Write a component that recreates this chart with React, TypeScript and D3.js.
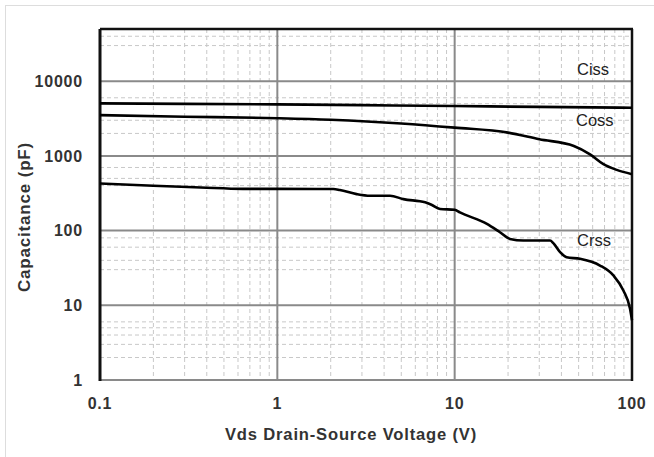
import React from 'react'
import * as d3 from 'd3'

// (Vds in V, capacitance in pF)
const cissV = [0.1, 0.3, 1, 3, 10, 30, 100]
const cissC = [5050, 4980, 4900, 4780, 4650, 4530, 4420]

const cossV = [0.1, 0.3, 1, 2, 5, 10, 20, 30, 47, 58, 69, 82, 100]
const cossC = [3520, 3350, 3200, 3050, 2720, 2390, 2050, 1670, 1360, 1050, 775, 650, 570]

const crssV = [0.1, 0.2, 0.37, 0.64, 1, 2.07, 2.25, 2.8, 3.33, 4.32, 5.14, 6.81, 7.4, 8.27, 10, 10.7, 15.2, 18, 20.5, 24.4, 34.5, 36, 39.3, 42.8, 50.9, 66, 78.5, 89.4, 97.5, 100]
const crssC = [428, 398, 378, 362, 362, 360, 350, 308, 293, 293, 264, 239, 222, 195, 190, 175, 123, 95, 77.4, 73.6, 73.6, 68, 51.4, 44, 41.9, 34.1, 25.1, 15.8, 9, 6.3]

const xTicks = [0.1, 1, 10, 100]
const yTicks = [1, 10, 100, 1000, 10000]
const yMinor = [2, 3, 4, 5, 6, 30, 40, 60, 80, 400, 500, 700, 2000, 3000, 5000, 6000, 30000, 40000]

const seriesNames = ['Ciss', 'Coss', 'Crss']
const labelAt = [[577, 75], [576, 126], [577, 246]]

export default function App() {
  const W = 654, H = 457
  const x = d3.scaleLog().domain([0.1, 100]).range([100, 632])
  const y = d3.scaleLog().domain([1, 50000]).range([380, 29])

  const line = d3.line<[number, number]>()
    .x(d => x(d[0]))
    .y(d => y(d[1]))
    .curve(d3.curveMonotoneX)

  const series = [
    d3.zip(cissV, cissC),
    d3.zip(cossV, cossC),
    d3.zip(crssV, crssC),
  ] as [number, number][][]

  const xMinor = x.ticks().filter(t => !xTicks.includes(t))
  const [x0, x1] = x.range()
  const [y0, y1] = y.range()

  const tickFont = { fontFamily: 'Liberation Sans, Arial, sans-serif', fontWeight: 'bold', fontSize: 16, fill: '#333', letterSpacing: 0.8 }

  return (
    <svg width={W} height={H} style={{ position: 'absolute', left: 0, top: 0, background: '#fff' }}>
      <line x1={5} y1={5.5} x2={W} y2={5.5} stroke="#ddd" />
      <line x1={5.5} y1={5} x2={5.5} y2={H} stroke="#ddd" />

      {/* minor grid */}
      {xMinor.map(t => (
        <line key={'xm' + t} x1={x(t)} x2={x(t)} y1={y1} y2={y0} stroke="#c8c8c8" strokeDasharray="4,3" />
      ))}
      {yMinor.map(t => (
        <line key={'ym' + t} x1={x0} x2={x1} y1={y(t)} y2={y(t)} stroke="#c8c8c8" strokeDasharray="4,3" />
      ))}

      {/* major grid */}
      {xTicks.slice(1, -1).map(t => (
        <line key={'xg' + t} x1={x(t)} x2={x(t)} y1={y1} y2={y0} stroke="#8a8a8a" strokeWidth={2} />
      ))}
      {yTicks.slice(1).map(t => (
        <line key={'yg' + t} x1={x0} x2={x1} y1={y(t)} y2={y(t)} stroke="#8a8a8a" strokeWidth={2} />
      ))}
      <line x1={x0} x2={x1} y1={y0} y2={y0} stroke="#8a8a8a" strokeWidth={2} />

      {/* frame */}
      <line x1={x0} x2={x1 + 1} y1={y1} y2={y1} stroke="#111" strokeWidth={2.5} />
      <line x1={x0} x2={x0} y1={y1} y2={y0 + 1} stroke="#111" strokeWidth={3} />
      <line x1={x1} x2={x1} y1={y1} y2={y0 + 1} stroke="#111" strokeWidth={2.5} />

      {series.map((s, i) => (
        <path key={seriesNames[i]} d={line(s) || ''} fill="none" stroke="#000" strokeWidth={2.6} />
      ))}

      {seriesNames.map((n, i) => (
        <text key={n} x={labelAt[i][0]} y={labelAt[i][1]} fontFamily="Liberation Sans, Arial, sans-serif" fontSize={16.5} fill="#222">{n}</text>
      ))}

      {yTicks.map(t => (
        <text key={'yt' + t} x={83} y={y(t)} dy="0.36em" textAnchor="end" style={tickFont}>{d3.format('d')(t)}</text>
      ))}
      {xTicks.map(t => (
        <text key={'xt' + t} x={x(t)} y={409} textAnchor="middle" style={tickFont}>{t}</text>
      ))}

      <text x={351} y={440} textAnchor="middle" style={tickFont} textLength={252} lengthAdjust="spacingAndGlyphs">Vds Drain-Source Voltage (V)</text>
      <text transform="translate(30,217) rotate(-90)" textAnchor="middle" style={tickFont} textLength={150} lengthAdjust="spacingAndGlyphs">Capacitance (pF)</text>
    </svg>
  )
}
